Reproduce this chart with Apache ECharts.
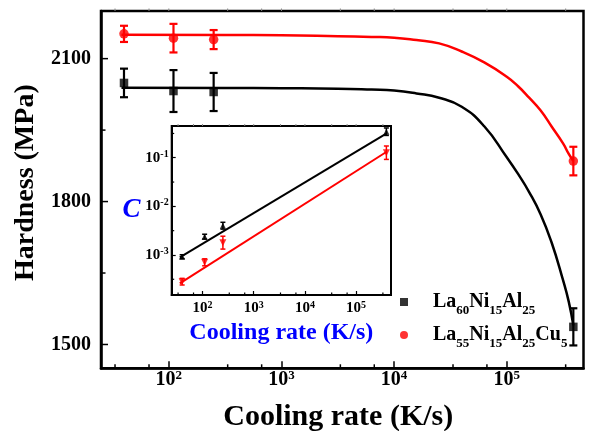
<!DOCTYPE html>
<html><head><meta charset="utf-8">
<script src="https://cdn.jsdelivr.net/npm/echarts@6/dist/echarts.min.js"></script>
<style>html,body{margin:0;padding:0;background:#fff}#c{width:589px;height:431px}</style>
</head><body><div id="c"></div>
<script>
// ---- data ----
const rates = [40, 110, 250, 390000];
const blackH = [2049, 2032, 2030, 1537];
const blackErr = [30, 44, 40, 39];
const redH = [2152, 2143, 2140, 1885];
const redErr = [17, 30, 20, 30];

const fitRate   = [38, 316, 1000, 3160, 6310, 10000, 15800, 25100, 39800, 63100, 100000, 126000, 158000, 200000, 251000, 316000, 355000, 390000];
const blackFitH = [2039, 2038.5, 2038, 2037, 2035, 2033, 2027, 2018, 1999, 1958, 1893, 1858, 1820, 1773, 1713, 1635, 1590, 1540];
const redFitH   = [2150, 2149.5, 2149, 2147, 2145.5, 2144, 2139, 2132, 2115, 2092, 2062, 2042, 2018, 1991, 1957, 1922, 1900, 1885];

const insetBlackC  = [9.2e-4, 2.38e-3, 4.0e-3, 0.343];
const insetBlackLo = [8.4e-4, 2.12e-3, 3.4e-3, 0.288];
const insetBlackHi = [1.01e-3, 2.67e-3, 4.7e-3, 0.41];
const insetRedC  = [2.82e-4, 7.06e-4, 1.79e-3, 0.127];
const insetRedLo = [2.41e-4, 5.98e-4, 1.32e-3, 0.0924];
const insetRedHi = [3.30e-4, 8.33e-4, 2.43e-3, 0.1745];
const insetFitRate = [36, 395000];
const insetBlackFitC = [8.9e-4, 0.318];
const insetRedFitC = [2.6e-4, 0.133];

const seriesNames = ['La60Ni15Al25', 'La55Ni15Al25Cu5'];
const xMajorTicks = [100, 1000, 10000, 100000];
const xMinorTicks = [33.3, 66.7, 333, 667, 3333, 6667, 33333, 66667, 333333];
const yMajorTicks = [1500, 1800, 2100];
const yMinorTicks = [1650, 1950];
const insetYMinorTicks = [3.16e-4, 3.16e-3, 3.16e-2, 0.316];

const X_MIN = 25, X_MAX = 480000, Y_MIN = 1450, Y_MAX = 2200, C_MIN = 1.5e-4, C_MAX = 0.45;
const FONT = 'Liberation Serif';
const BLUE = '#0000ff', RED = '#ff0000';

// ---- helpers ----
const zip = (a, b) => a.map((v, i) => [v, b[i]]);
function tickSeries(xi, yi, items, color, w) {
  return {
    type: 'custom', xAxisIndex: xi, yAxisIndex: yi, silent: true, clip: false, z: 6,
    data: items, encode: {x: 0, y: 1},
    renderItem: (p, api) => {
      const c = api.coord([api.value(0), api.value(1)]);
      return {type: 'line', shape: {x1: c[0], y1: c[1], x2: c[0] + api.value(2), y2: c[1] + api.value(3)},
        style: {stroke: color, lineWidth: w}};
    }
  };
}
function errSeries(xi, yi, xs, lo, hi, color, cap, w) {
  return {
    type: 'custom', xAxisIndex: xi, yAxisIndex: yi, silent: true, z: 3,
    data: xs.map((x, i) => [x, lo[i], hi[i]]), encode: {x: 0, y: [1, 2]},
    renderItem: (p, api) => {
      const a = api.coord([api.value(0), api.value(1)]);
      const b = api.coord([api.value(0), api.value(2)]);
      const st = {stroke: color, lineWidth: w};
      return {type: 'group', children: [
        {type: 'line', shape: {x1: a[0], y1: a[1], x2: b[0], y2: b[1]}, style: st},
        {type: 'line', shape: {x1: a[0] - cap, y1: a[1], x2: a[0] + cap, y2: a[1]}, style: st},
        {type: 'line', shape: {x1: b[0] - cap, y1: b[1], x2: b[0] + cap, y2: b[1]}, style: st}
      ]};
    }
  };
}
const pow10Label = v => '{b|10}{s|' + Math.round(Math.log10(v)) + '}';
function richPow(base, sup) {
  return {
    b: {fontFamily: FONT, fontWeight: 'bold', fontSize: base, color: '#000', lineHeight: base + 2},
    s: {fontFamily: FONT, fontWeight: 'bold', fontSize: sup, color: '#000', verticalAlign: 'top', lineHeight: sup}
  };
}
const chemRich = name => '{sp| }' + name.replace(/([A-Za-z]+)(\d+)/g, '{m|$1}{s|$2}');

const chart = echarts.init(document.getElementById('c'), null, {renderer: 'canvas'});
const option = {
  animation: false,
  backgroundColor: '#fff',
  grid: [
    {left: 101, right: 5.5, top: 11, bottom: 62.7, containLabel: false, outerBoundsMode: 'none',
     show: true, borderColor: '#000', borderWidth: 2.5, backgroundColor: 'transparent'},
    {left: 171.7, right: 198, top: 126, bottom: 136, containLabel: false, outerBoundsMode: 'none',
     show: true, borderColor: '#000', borderWidth: 2, backgroundColor: 'transparent'}
  ],
  legend: {
    data: seriesNames, orient: 'vertical', left: 400, top: 292, padding: 0, itemGap: 8,
    itemWidth: 8, itemHeight: 8, selectedMode: false,
    formatter: chemRich,
    textStyle: {rich: {
      sp: {width: 20, fontSize: 12},
      m: {fontFamily: FONT, fontWeight: 'bold', fontSize: 20, color: '#000', lineHeight: 30},
      s: {fontFamily: FONT, fontWeight: 'bold', fontSize: 13, color: '#000', verticalAlign: 'bottom', lineHeight: 13}
    }}
  },
  xAxis: [
    {type: 'log', logBase: 10, gridIndex: 0, min: X_MIN, max: X_MAX,
     axisLine: {show: true, lineStyle: {color: '#000', width: 2.5}},
     axisTick: {show: true, inside: true, length: 7, lineStyle: {color: '#000', width: 1.5}},
     splitLine: {show: false}, minorTick: {show: false},
     axisLabel: {margin: 1, showMinLabel: false, showMaxLabel: false, formatter: pow10Label, rich: richPow(20, 13)},
     name: 'Cooling rate (K/s)', nameLocation: 'middle', nameGap: 34,
     nameTextStyle: {fontFamily: FONT, fontWeight: 'bold', fontSize: 30, color: '#000', padding: [0, 8, 0, 0]}},
    {type: 'log', logBase: 10, gridIndex: 1, min: X_MIN, max: X_MAX,
     axisLine: {show: true, lineStyle: {color: '#000', width: 2}},
     axisTick: {show: true, inside: true, length: 4, lineStyle: {color: '#000', width: 1.2}},
     splitLine: {show: false},
     axisLabel: {margin: 5, showMinLabel: false, showMaxLabel: false, formatter: pow10Label, rich: richPow(15, 10)},
     name: 'Cooling rate (K/s)', nameLocation: 'middle', nameGap: 26,
     nameTextStyle: {fontFamily: FONT, fontWeight: 'bold', fontSize: 24, color: BLUE}}
  ],
  yAxis: [
    {type: 'value', gridIndex: 0, min: Y_MIN, max: Y_MAX, interval: 50,
     axisLine: {show: true, lineStyle: {color: '#000', width: 2.5}},
     axisTick: {show: false}, splitLine: {show: false},
     axisLabel: {margin: 10, formatter: v => (yMajorTicks.indexOf(v) >= 0 ? String(v) : ''),
       fontFamily: FONT, fontWeight: 'bold', fontSize: 20, color: '#000'},
     name: 'Hardness (MPa)', nameLocation: 'middle', nameGap: 47,
     nameTextStyle: {fontFamily: FONT, fontWeight: 'bold', fontSize: 28, color: '#000', padding: [0, 0, 0, 14]}},
    {type: 'log', logBase: 10, gridIndex: 1, min: C_MIN, max: C_MAX,
     axisLine: {show: true, lineStyle: {color: '#000', width: 2}},
     axisTick: {show: true, inside: true, length: 4, lineStyle: {color: '#000', width: 1.2}},
     splitLine: {show: false},
     axisLabel: {margin: 3, showMinLabel: false, showMaxLabel: false, formatter: pow10Label, rich: richPow(15, 10)},
     name: 'C', nameLocation: 'middle', nameGap: 30, nameRotate: 0,
     nameTextStyle: {fontFamily: FONT, fontWeight: 'bold', fontStyle: 'italic', fontSize: 27, color: BLUE, padding: [0, 0, 8, 0]}}
  ],
  series: [
    {type: 'line', name: 'fitBlack', xAxisIndex: 0, yAxisIndex: 0, data: zip(fitRate, blackFitH),
     smooth: 0.5, showSymbol: false, silent: true, z: 2, lineStyle: {color: '#000', width: 2.5}},
    {type: 'line', name: 'fitRed', xAxisIndex: 0, yAxisIndex: 0, data: zip(fitRate, redFitH),
     smooth: 0.5, showSymbol: false, silent: true, z: 2, lineStyle: {color: RED, width: 2.5}},
    errSeries(0, 0, rates, blackH.map((v, i) => v - blackErr[i]), blackH.map((v, i) => v + blackErr[i]), '#000', 4, 2.2),
    errSeries(0, 0, rates, redH.map((v, i) => v - redErr[i]), redH.map((v, i) => v + redErr[i]), RED, 4, 2.2),
    {type: 'scatter', name: seriesNames[0], xAxisIndex: 0, yAxisIndex: 0, data: zip(rates, blackH),
     symbol: 'rect', symbolSize: 8.5, itemStyle: {color: '#000'}, z: 4},
    {type: 'scatter', name: seriesNames[1], xAxisIndex: 0, yAxisIndex: 0, data: zip(rates, redH),
     symbol: 'circle', symbolSize: 9.5, itemStyle: {color: RED}, z: 4},
    {type: 'line', name: 'insetFitBlack', xAxisIndex: 1, yAxisIndex: 1, data: zip(insetFitRate, insetBlackFitC),
     showSymbol: false, silent: true, z: 2, lineStyle: {color: '#000', width: 2}},
    {type: 'line', name: 'insetFitRed', xAxisIndex: 1, yAxisIndex: 1, data: zip(insetFitRate, insetRedFitC),
     showSymbol: false, silent: true, z: 2, lineStyle: {color: RED, width: 2}},
    errSeries(1, 1, rates, insetBlackLo, insetBlackHi, '#000', 2.5, 1.5),
    errSeries(1, 1, rates, insetRedLo, insetRedHi, RED, 2.5, 1.5),
    {type: 'scatter', name: 'insetBlack', xAxisIndex: 1, yAxisIndex: 1, data: zip(rates, insetBlackC),
     symbol: 'triangle', symbolSize: 6, itemStyle: {color: '#000'}, z: 4},
    {type: 'scatter', name: 'insetRed', xAxisIndex: 1, yAxisIndex: 1, data: zip(rates, insetRedC),
     symbol: 'triangle', symbolRotate: 180, symbolSize: 7, itemStyle: {color: RED}, z: 4},
    // minor / mirror ticks
    tickSeries(0, 0, xMinorTicks.map(v => [v, Y_MIN, 0, -4]), '#000', 1.5),
    tickSeries(0, 0, xMajorTicks.concat(xMinorTicks).map(v => [v, Y_MAX, 0, -2.5]), '#888', 1),
    tickSeries(0, 0, yMajorTicks.map(v => [X_MIN, v, 7, 0]).concat(yMinorTicks.map(v => [X_MIN, v, 4.5, 0])), '#000', 1.5),
    tickSeries(1, 1, xMinorTicks.map(v => [v, C_MIN, 0, -2.5]), '#000', 1.2),
    tickSeries(1, 1, xMajorTicks.concat(xMinorTicks).map(v => [v, C_MAX, 0, -2]), '#888', 1),
    tickSeries(1, 1, insetYMinorTicks.map(v => [X_MIN, v, 2.5, 0]), '#000', 1.2)
  ]
};
chart.setOption(option);
</script></body></html>
